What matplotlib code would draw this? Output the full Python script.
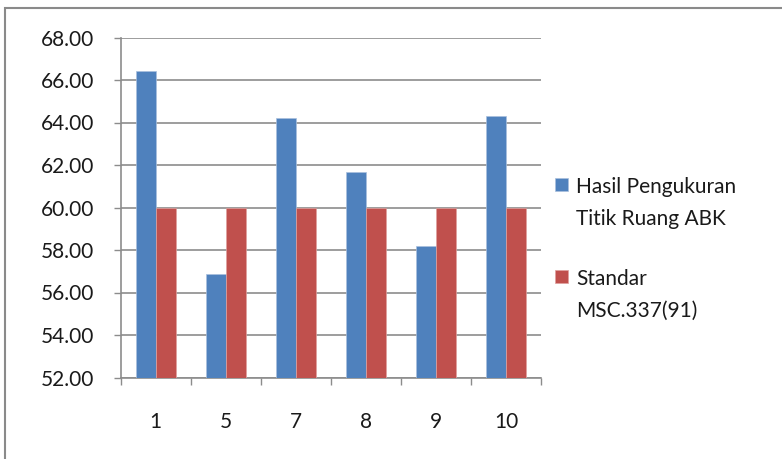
import matplotlib
matplotlib.use("Agg")
import matplotlib.pyplot as plt
from matplotlib.patches import Rectangle
import numpy as np

# titik pengukuran dan nilai kebisingan (dB)
kategori = ["1", "5", "7", "8", "9", "10"]
hasil_pengukuran = [66.44, 56.87, 64.20, 61.66, 58.20, 64.32]
standar_msc = [60.00, 60.00, 60.00, 60.00, 60.00, 60.00]
label_seri = [["Hasil Pengukuran", "Titik Ruang ABK"], ["Standar", "MSC.337(91)"]]
warna = ["#4F81BD", "#C0504D"]
tepi = ["#a9c0de", "#dfa09e"]

plt.rcParams["font.family"] = ["Lato", "DejaVu Sans"]

W, H = 782, 459
fig = plt.figure(figsize=(W / 100, H / 100), dpi=100)

# bingkai luar grafik
fig.patches.append(Rectangle((5 / W, -0.2), 1.2, 1.2 - 7.5 / H,
                             transform=fig.transFigure, fill=False,
                             edgecolor="#8a8a8a", linewidth=1.5))

ax = fig.add_axes([120.7 / W, 1 - 377.5 / H, (541 - 120.7) / W, 340 / H])

x = np.arange(len(kategori))
lebar = 1 / 3.5
ax.bar(x - lebar / 2, hasil_pengukuran, lebar, color=warna[0],
       edgecolor=tepi[0], linewidth=0.5, zorder=3)
ax.bar(x + lebar / 2, standar_msc, lebar, color=warna[1],
       edgecolor=tepi[1], linewidth=0.5, zorder=3)

ax.set_ylim(52, 68)
yt = np.arange(52, 68.1, 2)
ax.set_yticks(yt)
ax.set_yticklabels([f"{v:.2f}" for v in yt])
ax.set_xlim(-0.5, len(kategori) - 0.5)
ax.set_xticks(x)
ax.set_xticklabels(kategori)
ax.set_xticks(np.arange(-0.5, len(kategori)), minor=True)

ax.grid(axis="y", color="#8c8c8c", linewidth=1.2, zorder=0)
for s in ["top", "right"]:
    ax.spines[s].set_visible(False)
for s in ["left", "bottom"]:
    ax.spines[s].set_color("#8c8c8c")
    ax.spines[s].set_linewidth(1.2)

ax.tick_params(axis="y", direction="out", length=5, width=1, color="#8c8c8c",
               labelsize=15, pad=14, labelcolor="#1a1a1a")
ax.tick_params(axis="x", which="major", length=0, labelsize=15, pad=25,
               labelcolor="#1a1a1a")
ax.tick_params(axis="x", which="minor", direction="out", length=5, width=1,
               color="#8c8c8c")

# legenda di sisi kanan: kotak warna + dua baris teks per seri
for i, (baris, c, e) in enumerate(zip(label_seri, warna, tepi)):
    y0 = 193 + i * 92
    fig.patches.append(Rectangle((555 / W, 1 - (y0 - 2) / H), 13 / W, 13 / H,
                                 transform=fig.transFigure, facecolor=c,
                                 edgecolor=e, linewidth=0.5))
    for j, t in enumerate(baris):
        fig.text(576 / W, 1 - (y0 + j * 32) / H, t, fontsize=15,
                 color="#1a1a1a", va="baseline", ha="left")

fig.savefig("out.png", dpi=100)
